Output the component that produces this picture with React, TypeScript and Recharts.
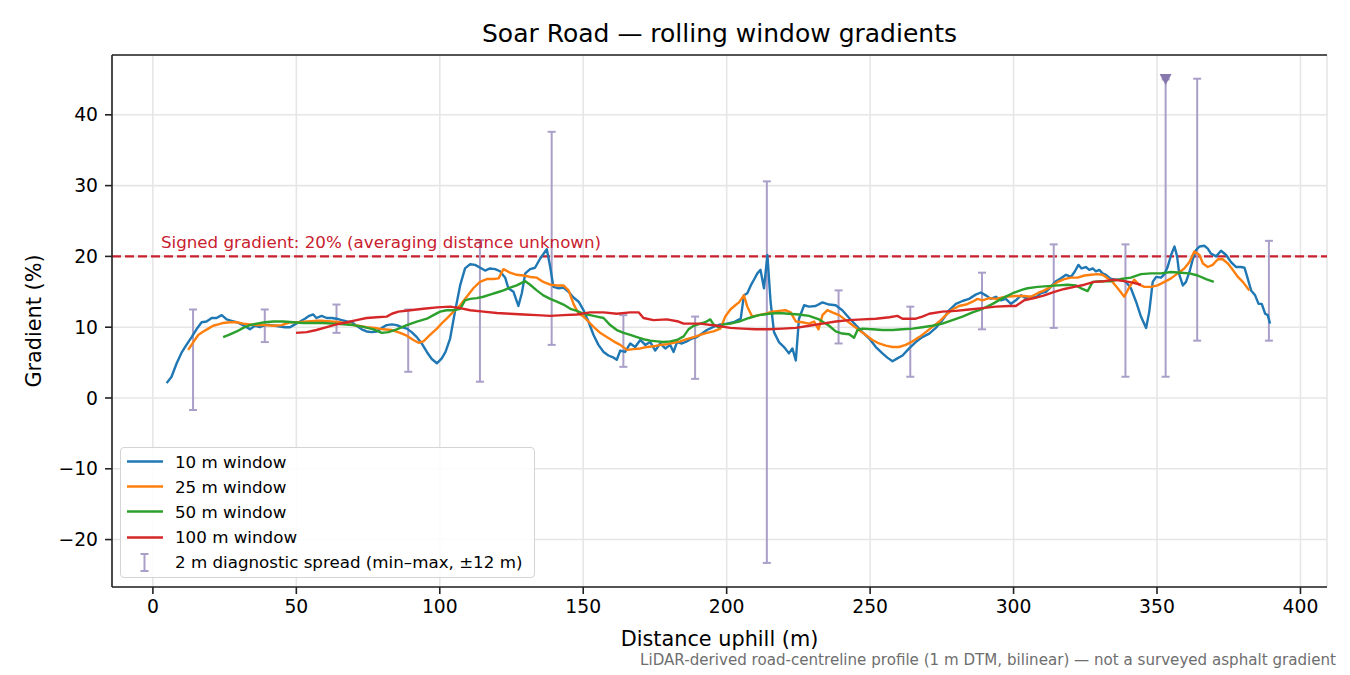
import {
  ComposedChart,
  Line,
  Scatter,
  ErrorBar,
  XAxis,
  YAxis,
  CartesianGrid,
  ReferenceLine,
  ReferenceDot,
  Legend,
} from "recharts"

// distance uphill (m) and gradient (%) per rolling window
const dist10 = [
  4.8, 6.5, 8.3, 10, 11.7, 13.5, 15.2, 17, 18.7, 20.5, 22.2, 24, 25.7, 27.4, 29.2, 30.9, 32.7, 33.8, 35.6, 37.3,
  39, 40.8, 42.5, 44.3, 46, 47.8, 49.5, 51.3, 53, 54.5, 55.9, 57, 58.8, 60.6, 62.3, 64, 65.8, 67.6, 69.3, 71,
  72.8, 74.5, 76.3, 78, 79.8, 81.5, 83.3, 85, 86.7, 88.5, 90.2, 92, 93.7, 95.5, 97.2, 99, 100.7, 102, 103.6, 105.3,
  107.1, 108.8, 110.6, 112.3, 114.1, 115.8, 117.5, 119.3, 121, 122.8, 123.9, 125.7, 127.4, 128.6, 129.8, 131.5, 133.2, 135, 137.3, 138.5,
  139.6, 141.4, 143.1, 144.9, 146.6, 148.4, 150.1, 151.8, 153.6, 155.3, 157.1, 158.8, 160.6, 161.7, 162.9, 164.6, 166.4, 168.1, 169.9, 171.6,
  173.4, 175.1, 176.8, 178.6, 180.3, 181.5, 182.7, 184.4, 186.1, 187.9, 189.6, 191.4, 193.1, 195.4, 197.8, 200.1, 202.4, 204.9, 206, 207.2,
  208.4, 209.5, 210.7, 211.8, 213, 214.2, 215.3, 216.5, 218.2, 220, 221.7, 222.9, 224.1, 225.2, 227, 228.7, 231, 233.4, 235.7, 238,
  240.3, 242.7, 245, 247.3, 249.7, 252, 254.3, 256, 257.8, 259.5, 261.3, 263.6, 265.9, 268.2, 270.6, 272.9, 275.2, 277.6, 279.9, 282.2,
  284.5, 286.8, 288.6, 290.3, 292.1, 293.8, 295.6, 297.3, 299.1, 300.8, 302.6, 304.3, 306, 307.8, 309.5, 311.3, 313, 314.8, 316.5, 318.3,
  320, 321.4, 322.6, 323.7, 325.2, 326.4, 327.6, 328.7, 329.9, 331, 332.2, 334, 335.7, 337.4, 339.2, 340.9, 342.7, 344.4, 346.2, 347.3,
  348.5, 349.7, 351.4, 352.6, 353.7, 354.9, 356.1, 357, 357.8, 359, 360.1, 361.3, 362.4, 363.6, 364.8, 366.5, 367.7, 368.8, 370.6, 372.3,
  374.1, 375.8, 377.6, 379.3, 380.5, 381.6, 382.8, 384.2, 385.4, 386.5, 387.7, 388.6, 389.4,
]
const grad10 = [
  2.1, 3.0, 4.9, 6.4, 7.5, 8.6, 9.7, 10.7, 10.8, 11.3, 11.3, 11.7, 11.1, 10.9, 10.7, 10.4, 10.0, 9.7, 10.2, 10.0,
  10.3, 10.3, 10.2, 10.1, 10.0, 10.0, 10.4, 10.8, 11.2, 11.6, 11.8, 11.3, 11.6, 11.3, 11.3, 11.2, 11.0, 10.8, 10.7, 10.2,
  9.7, 9.4, 9.3, 9.4, 9.9, 10.3, 10.4, 10.3, 10.0, 9.8, 9.3, 8.6, 7.7, 6.5, 5.5, 4.9, 5.6, 6.5, 8.4, 12.2,
  15.9, 18.3, 18.9, 18.8, 18.4, 18.0, 18.3, 18.2, 17.9, 17.0, 15.5, 15.0, 13.0, 14.8, 17.6, 18.2, 18.4, 19.7, 21.0, 18.5,
  15.7, 15.5, 15.6, 15.0, 14.2, 13.6, 12.4, 10.8, 8.9, 7.5, 6.5, 6.0, 5.7, 5.4, 6.7, 6.5, 7.7, 7.2, 8.2, 7.5,
  7.9, 6.7, 7.7, 7.0, 7.5, 6.5, 7.9, 7.7, 8.0, 8.4, 8.6, 9.1, 9.6, 10.05, 10.4, 10.5, 10.7, 11.2, 14.5, 14.8,
  15.9, 16.7, 17.6, 18.1, 15.5, 20.2, 13.6, 9.3, 7.9, 7.2, 6.3, 7.0, 5.3, 11.2, 13.1, 12.9, 13.0, 13.5, 13.2, 13.1,
  12.4, 11.3, 10.3, 9.3, 8.4, 7.2, 6.3, 5.7, 5.2, 5.6, 6.0, 7.0, 7.9, 8.6, 9.1, 9.9, 11.0, 12.4, 13.3, 13.7,
  14.0, 14.6, 14.9, 14.5, 14.0, 14.3, 13.8, 14.0, 13.3, 13.8, 14.5, 14.1, 14.3, 14.2, 14.8, 15.0, 15.7, 16.5, 16.9, 17.4,
  17.1, 17.9, 18.8, 18.3, 18.5, 18.1, 18.3, 17.9, 18.1, 17.6, 17.4, 16.8, 16.7, 16.7, 16.4, 15.5, 13.6, 11.5, 9.9, 12.2,
  16.4, 17.1, 17.0, 17.5, 18.5, 20.2, 21.4, 20.0, 17.4, 15.9, 16.4, 17.8, 19.5, 20.9, 21.4, 21.5, 21.1, 20.4, 20.0, 20.8,
  20.2, 19.2, 18.5, 18.5, 18.4, 16.9, 15.2, 14.5, 13.3, 13.3, 11.9, 11.7, 10.5,
]

const dist25 = [
  12.3, 14.1, 15.8, 17.6, 19.3, 21, 22.8, 24.5, 26.9, 29.2, 31.5, 33.8, 36.2, 39, 42, 44.9, 47.8, 50.7, 53.6, 56.5,
  59.4, 62.3, 65.2, 68.7, 71.6, 74.5, 77.4, 80.3, 83.3, 86.2, 88.5, 90.8, 92.6, 94.3, 96.6, 99, 101.3, 102.4, 104.8, 107.1,
  109.4, 111.7, 114, 116.4, 118.7, 120.5, 122.2, 124.5, 126.8, 129.2, 131.5, 133.8, 136.1, 138.5, 140.8, 143.1, 144.9, 146.6, 148.4, 150.1,
  151.8, 153.6, 155.9, 158.2, 160.6, 162.9, 165.2, 167.5, 169.9, 172.2, 174.5, 176.8, 179.2, 181.5, 183.8, 186.1, 188.5, 190.8, 193.1, 195.4,
  197.8, 199.5, 201.3, 203, 204.3, 206, 207.2, 208.9, 211.2, 213.6, 215.9, 218.2, 220.5, 222.3, 224.1, 226.4, 228.7, 230.5, 232, 233.4,
  235.1, 236.8, 239.2, 241.5, 243.8, 246.1, 248.5, 250.8, 253.1, 255.5, 257.8, 260.1, 262.4, 264.8, 267.1, 269.4, 271.7, 274.1, 276.4, 278.7,
  281, 283.4, 285.7, 287.4, 289.2, 291.5, 293.8, 297.3, 300.8, 303.7, 306, 308.4, 310.7, 313, 315.4, 317.7, 320, 322.3, 324.7, 327,
  329.3, 331, 332.8, 334.5, 336.3, 338.6, 340.4, 342.1, 343.8, 345.6, 347.9, 350.2, 352.6, 354.9, 357.2, 359.5, 361.3, 363, 364.8, 366,
  367.7, 369.4, 371.2, 372.9, 374.7, 376.4, 378.2, 379.9, 381.6, 382.2,
]
const grad25 = [
  6.8, 7.9, 8.9, 9.4, 9.8, 10.2, 10.4, 10.6, 10.7, 10.7, 10.5, 10.4, 10.3, 10.3, 10.2, 10.3, 10.7, 10.7, 10.8, 10.9,
  10.9, 10.8, 10.7, 10.4, 10.2, 10.0, 9.9, 9.7, 9.6, 9.2, 8.8, 8.2, 7.8, 8.0, 8.9, 9.8, 10.8, 11.2, 12.2, 13.1,
  14.3, 15.5, 16.4, 16.8, 16.8, 16.9, 18.2, 17.7, 17.4, 17.3, 17.1, 17.0, 16.4, 16.0, 15.9, 15.9, 15.2, 13.3, 11.9, 11.5,
  10.8, 10.05, 9.2, 8.6, 8.0, 7.5, 6.8, 6.9, 7.0, 7.2, 7.3, 7.5, 7.6, 7.8, 8.0, 8.3, 8.6, 8.9, 9.2, 9.4,
  9.8, 11.5, 12.5, 13.1, 13.5, 14.5, 12.9, 11.5, 11.7, 11.9, 12.2, 12.3, 12.4, 12.1, 10.8, 10.7, 10.5, 10.8, 9.7, 11.7,
  12.4, 12.1, 11.7, 11.0, 10.3, 9.6, 8.9, 8.2, 7.7, 7.4, 7.2, 7.2, 7.5, 8.0, 8.6, 9.3, 10.05, 10.8, 11.7, 12.5,
  13.0, 13.2, 13.6, 14.0, 13.8, 14.1, 14.0, 14.3, 14.4, 14.4, 14.3, 14.8, 15.2, 15.7, 16.4, 16.8, 17.0, 17.0, 17.3, 17.4,
  17.5, 17.4, 16.9, 16.4, 15.5, 14.3, 15.7, 16.7, 16.0, 15.7, 15.7, 15.9, 16.4, 16.9, 17.6, 18.3, 19.2, 20.7, 20.2, 19.0,
  18.5, 18.8, 19.6, 19.6, 19.0, 18.1, 17.1, 16.4, 15.5, 15.2,
]

const dist50 = [
  24.5, 26.9, 29.2, 31.5, 33.8, 36.2, 39, 42, 45.5, 49, 52.4, 55.9, 59.4, 62.9, 66.4, 69.9, 73.4, 76.9, 79.8, 82.1,
  85, 88.5, 92, 95.5, 97.8, 100.1, 102.4, 104.8, 107.1, 108.8, 110.6, 112.9, 115.2, 117.5, 119.9, 122.2, 124.5, 126.8, 129.8, 131.5,
  133.8, 136.1, 138.5, 140.8, 143.1, 145.5, 147.8, 150.1, 152.4, 154.8, 157.1, 159.4, 161.7, 164.1, 166.4, 168.7, 171, 173.4, 175.7, 178,
  180.3, 182.7, 185, 186.7, 188.5, 190.8, 192.5, 194.3, 195.4, 197.2, 198.9, 201.3, 204.3, 207.8, 211.2, 214.7, 218.2, 221.7, 225.2, 228.7,
  232.2, 235.7, 238, 240.3, 242.7, 244.4, 245.6, 247.3, 250.8, 254.3, 257.8, 261.3, 264.8, 268.2, 271.7, 275.2, 278.7, 282.2, 285.7, 289.2,
  292.7, 296.2, 299.7, 303.1, 304.9, 308.4, 311.9, 315.4, 318.8, 321.7, 324, 325.8, 327.6, 330.5, 334, 337.4, 340.9, 344.4, 347.9, 351.4,
  354.9, 358.4, 361.3, 364.2, 367.1, 369.8,
]
const grad50 = [
  8.6, 9.0, 9.4, 9.9, 10.3, 10.5, 10.7, 10.8, 10.8, 10.7, 10.6, 10.6, 10.6, 10.5, 10.4, 10.3, 10.05, 9.7, 9.2, 9.3,
  9.7, 10.3, 10.8, 11.2, 11.7, 12.2, 12.4, 12.4, 12.6, 13.8, 14.0, 14.1, 14.3, 14.6, 14.9, 15.2, 15.6, 15.9, 16.5, 16.0,
  15.2, 14.5, 14.0, 13.6, 13.2, 12.6, 12.3, 11.9, 11.7, 11.5, 11.3, 10.3, 9.6, 9.2, 8.9, 8.6, 8.3, 8.1, 8.0, 7.9,
  8.0, 8.2, 8.7, 9.7, 10.2, 10.5, 10.7, 11.1, 10.4, 10.0, 10.4, 10.5, 10.8, 11.3, 11.7, 11.9, 12.0, 11.9, 11.8, 11.6,
  11.1, 10.2, 9.4, 9.1, 9.0, 8.5, 9.6, 9.8, 9.7, 9.6, 9.6, 9.7, 9.8, 10.0, 10.2, 10.5, 11.0, 11.5, 12.1, 12.6,
  13.3, 14.1, 14.8, 15.3, 15.5, 15.7, 15.8, 15.9, 16.0, 15.9, 15.4, 15.1, 16.4, 16.5, 16.5, 16.8, 17.0, 17.5, 17.6, 17.6,
  17.8, 17.7, 17.6, 17.3, 16.8, 16.4,
]

const dist100 = [
  49.9, 53.6, 57, 60.6, 64, 67.6, 71, 74.5, 78, 81.5, 83.3, 85.6, 89.7, 94.3, 99, 103.6, 107.1, 110.6, 115.2, 119.9,
  124.5, 129.2, 133.8, 138.5, 143.1, 147.8, 152.4, 157.1, 161.7, 166.4, 169.3, 171, 174.5, 179.2, 183.2, 185, 190.8, 196.6, 201.3, 205.5,
  210.1, 214.7, 219.4, 224.1, 228.7, 233.4, 238, 242.7, 247.3, 252, 256.7, 259.5, 261.3, 265.9, 268.2, 270.6, 275.2, 279.9, 284.5, 289.2,
  293.8, 298.5, 300.8, 303.7, 307.2, 310.7, 314.2, 317.7, 321.2, 324.7, 328.1, 331.6, 335.1, 338.6, 341.5, 344.4,
]
const grad100 = [
  9.2, 9.3, 9.6, 10.0, 10.4, 10.7, 11.0, 11.3, 11.4, 11.5, 11.9, 12.2, 12.4, 12.6, 12.8, 12.9, 12.7, 12.4, 12.2, 12.0,
  11.9, 11.8, 11.7, 11.6, 11.7, 11.8, 12.1, 12.1, 11.9, 12.1, 12.1, 11.3, 11.0, 11.1, 10.8, 10.5, 10.5, 10.2, 9.9, 9.8,
  9.7, 9.7, 9.8, 9.9, 10.2, 10.5, 10.8, 11.0, 11.1, 11.2, 11.4, 11.6, 11.2, 11.2, 11.5, 11.9, 12.2, 12.3, 12.5, 12.7,
  12.9, 13.0, 13.0, 13.8, 14.1, 14.5, 15.0, 15.4, 15.7, 16.0, 16.4, 16.5, 16.7, 16.5, 16.3, 16.0,
]

// 2 m diagnostic spread (min–max over ±12 m)
const spreadDist = [14, 39, 64, 89, 114, 139, 164, 189, 214, 239, 264, 289, 314, 339, 353, 364, 389]
const spreadMin = [-1.7, 7.9, 9.2, 3.7, 2.3, 7.5, 4.4, 2.7, -23.3, 7.7, 3.0, 9.7, 9.9, 3.0, 3.0, 8.1, 8.1]
const spreadMax = [12.5, 12.5, 13.2, 12.5, 22.3, 37.6, 11.7, 11.5, 30.6, 15.2, 12.9, 17.7, 21.7, 21.7, 45, 45.1, 22.2]
// spread clipped at the display cap
const clippedDist = [353]
const clippedValue = [45]

const signedGradient = 20
const xDomain = [-14.25, 409.25]
const yDomain = [-26.7, 48.45]
const xTicks = [0, 50, 100, 150, 200, 250, 300, 350, 400]
const yTicks = [-20, -10, 0, 10, 20, 30, 40]

const title = "Soar Road — rolling window gradients"
const xLabel = "Distance uphill (m)"
const yLabel = "Gradient (%)"
const signedLabel = "Signed gradient: 20% (averaging distance unknown)"
const footnote = "LiDAR-derived road-centreline profile (1 m DTM, bilinear) — not a surveyed asphalt gradient"

const series = [
  { name: "10 m window", color: "#1f77b4", dist: dist10, grad: grad10 },
  { name: "25 m window", color: "#ff7f0e", dist: dist25, grad: grad25 },
  { name: "50 m window", color: "#2ca02c", dist: dist50, grad: grad50 },
  { name: "100 m window", color: "#d62728", dist: dist100, grad: grad100 },
]
const spreadName = "2 m diagnostic spread (min–max, ±12 m)"

const FONT = "'DejaVu Sans', 'Liberation Sans', sans-serif"
const SPREAD_COLOR = "#aa9fc8"
const REF_COLOR = "#c8202f"
const AXIS_COLOR = "#222"

const spreadData = spreadDist.map((d, i) => ({
  d,
  lo: spreadMin[i],
  err: [0, spreadMax[i] - spreadMin[i]],
}))
const clippedData = clippedDist.map((d, i) => ({ d, v: clippedValue[i] }))

const fmtTick = (v: number) => (v < 0 ? `\u2212${Math.abs(v)}` : `${v}`)

const TriangleDown = (props: any) => {
  const { cx, cy } = props
  if (cx == null || cy == null) return <g />
  return <path d={`M${cx - 6},${cy - 5.5} L${cx + 6},${cy - 5.5} L${cx},${cy + 5.5} Z`} fill="#8677ad" />
}

const LegendBox = () => (
  <div
    style={{
      boxSizing: "border-box",
      width: 415,
      height: 131,
      border: "1px solid #d4d4d4",
      borderRadius: 4,
      background: "rgba(255,255,255,0.85)",
      fontFamily: FONT,
      fontSize: 16.7,
      color: "#000",
      paddingTop: 1,
    }}
  >
    {series.map((s) => (
      <div key={s.name} style={{ display: "flex", alignItems: "center", height: 25.2 }}>
        <svg width={54} height={25} style={{ flex: "none" }}>
          <line x1={6} x2={42} y1={12.5} y2={12.5} stroke={s.color} strokeWidth={2.5} />
        </svg>
        <span>{s.name}</span>
      </div>
    ))}
    <div style={{ display: "flex", alignItems: "center", height: 25.2 }}>
      <svg width={54} height={25} style={{ flex: "none" }}>
        <line x1={23.5} x2={23.5} y1={4} y2={21} stroke={SPREAD_COLOR} strokeWidth={2} />
        <line x1={19.5} x2={27.5} y1={4} y2={4} stroke={SPREAD_COLOR} strokeWidth={2} />
        <line x1={19.5} x2={27.5} y1={21} y2={21} stroke={SPREAD_COLOR} strokeWidth={2} />
      </svg>
      <span>{spreadName}</span>
    </div>
  </div>
)

export default function App() {
  return (
    <div style={{ position: "relative", width: 1350, height: 675, background: "#fff", fontFamily: FONT }}>
      <style>{"body{margin:0;background:#fff}"}</style>
      <ComposedChart width={1350} height={675} margin={{ top: 55, right: 23, bottom: 0, left: 0 }}>
        <CartesianGrid stroke="#e6e6e6" strokeWidth={1.6} />
        <XAxis
          dataKey="d"
          type="number"
          domain={xDomain}
          ticks={xTicks}
          allowDataOverflow
          height={88}
          tickSize={7}
          tickMargin={6}
          tick={{ fill: "#000", fontSize: 18.75, fontFamily: FONT }}
          tickLine={{ stroke: AXIS_COLOR, strokeWidth: 1.6 }}
          axisLine={{ stroke: AXIS_COLOR, strokeWidth: 1.6 }}
        />
        <YAxis
          type="number"
          domain={yDomain}
          ticks={yTicks}
          allowDataOverflow
          width={112}
          tickSize={7}
          tickMargin={7}
          tickFormatter={fmtTick}
          tick={{ fill: "#000", fontSize: 18.75, fontFamily: FONT }}
          tickLine={{ stroke: AXIS_COLOR, strokeWidth: 1.6 }}
          axisLine={{ stroke: AXIS_COLOR, strokeWidth: 1.6 }}
        />
        <YAxis
          yAxisId="right"
          orientation="right"
          type="number"
          domain={yDomain}
          width={0}
          tick={false}
          tickLine={false}
          axisLine={{ stroke: AXIS_COLOR, strokeWidth: 1.6 }}
        />
        {/* top spine */}
        <ReferenceLine y={yDomain[1]} stroke={AXIS_COLOR} strokeWidth={1.6} ifOverflow="visible" />
        <ReferenceLine y={signedGradient} stroke={REF_COLOR} strokeWidth={2.2} strokeDasharray="9 4" />
        <ReferenceDot
          x={2.8}
          y={signedGradient}
          r={0}
          fill="none"
          stroke="none"
          label={{
            content: (p: any) => {
              const vb = p.viewBox || {}
              return (
                <text x={vb.x} y={vb.y - 8.5} fill={REF_COLOR} fontSize={16.7} fontFamily={FONT}>
                  {signedLabel}
                </text>
              )
            },
          }}
        />
        <Scatter data={spreadData} dataKey="lo" shape={() => <g />} isAnimationActive={false}>
          <ErrorBar dataKey="err" direction="y" width={4} stroke={SPREAD_COLOR} strokeWidth={2} />
        </Scatter>
        {series.map((s) => (
          <Line
            key={s.name}
            data={s.dist.map((d, i) => ({ d, g: s.grad[i] }))}
            dataKey="g"
            name={s.name}
            type="linear"
            stroke={s.color}
            strokeWidth={2.4}
            strokeLinejoin="round"
            dot={false}
            activeDot={false}
            isAnimationActive={false}
          />
        ))}
        <Scatter data={clippedData} dataKey="v" shape={TriangleDown} isAnimationActive={false} />
        <Legend
          layout="vertical"
          align="center"
          verticalAlign="middle"
          content={() => <LegendBox />}
          wrapperStyle={{ left: 120, top: 447, width: 415, height: 131 }}
        />
      </ComposedChart>
      <svg
        width={1350}
        height={675}
        style={{ position: "absolute", left: 0, top: 0, pointerEvents: "none" }}
        fontFamily={FONT}
      >
        <text x={719.5} y={42} textAnchor="middle" fontSize={25} fill="#000">
          {title}
        </text>
        <text x={719.5} y={645.5} textAnchor="middle" fontSize={20.8} fill="#000">
          {xLabel}
        </text>
        <text
          transform="translate(34,321) rotate(-90)"
          textAnchor="middle"
          dominantBaseline="central"
          fontSize={20.8}
          fill="#000"
        >
          {yLabel}
        </text>
        <text x={1336} y={665} textAnchor="end" fontSize={15.1} fill="#6e6e6e">
          {footnote}
        </text>
      </svg>
    </div>
  )
}
